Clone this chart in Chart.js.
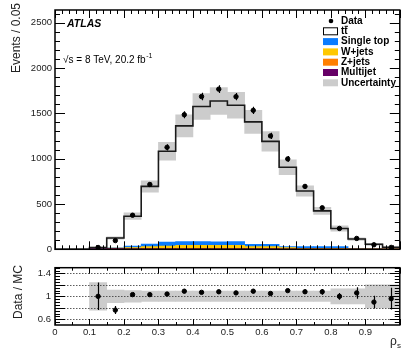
<!DOCTYPE html>
<html>
<head>
<meta charset="utf-8">
<script src="https://cdn.jsdelivr.net/npm/chart.js@4.4.1/dist/chart.umd.min.js"></script>
<style>
html, body { margin: 0; padding: 0; background: #fff; }
#wrap { position: relative; width: 403px; height: 350px; }
#top { position: absolute; left: 0; top: 0; width: 403px; height: 258px; }
#bot { position: absolute; left: 0; top: 258px; width: 403px; height: 92px; }
</style>
</head>
<body>
<div id="wrap">
  <div id="top"><canvas id="main"></canvas></div>
  <div id="bot"><canvas id="ratio"></canvas></div>
</div>
<script>
// bins of rho_s, width 0.05
var binLow = [0.00, 0.05, 0.10, 0.15, 0.20, 0.25, 0.30, 0.35, 0.40, 0.45, 0.50, 0.55, 0.60, 0.65, 0.70, 0.75, 0.80, 0.85, 0.90, 0.95];
var binWidth = 0.05;

// events per bin
var dataVals  = [0, 0, 20, 96, 376, 715, 1125, 1485, 1685, 1767, 1684, 1533, 1251, 997, 694, 458, 230, 120, 50, 21];
var dataErr   = [0, 0, 5, 10, 19, 27, 34, 39, 41, 42, 41, 39, 35, 32, 26, 21, 15, 11, 7, 5];
var mcTotal   = [0, 0, 20, 125, 365, 694, 1082, 1362, 1575, 1636, 1589, 1406, 1191, 906, 643, 424, 230, 113, 55, 22];
var singleTop = [0, 0, 1, 2, 15, 28, 44, 40, 40, 38, 40, 25, 25, 10, 18, 18, 18, 5, 4, 1];
var wJets     = [0, 0, 2, 3, 12, 20, 25, 32, 32, 32, 32, 20, 20, 13, 6, 6, 6, 2, 1, 1];
var zJets     = [0, 0, 1, 2, 4, 6, 7, 8, 8, 8, 8, 6, 6, 4, 3, 3, 3, 1, 1, 1];
var multijet  = [0, 0, 12, 8, 4, 4, 4, 4, 4, 4, 4, 4, 4, 3, 3, 3, 3, 2, 2, 2];
// relative MC uncertainty
var uncRel    = [0, 0, 0.24, 0.11, 0.10, 0.09, 0.09, 0.09, 0.09, 0.09, 0.09, 0.09, 0.09, 0.09, 0.09, 0.09, 0.13, 0.13, 0.20, 0.20];

// data / MC
var ratioVals = [null, null, 1.00, 0.76, 1.03, 1.03, 1.04, 1.09, 1.07, 1.08, 1.06, 1.09, 1.05, 1.10, 1.08, 1.08, 1.00, 1.06, 0.90, 0.96];
var ratioErr  = [0, 0, 0.24, 0.07, 0.04, 0.03, 0.03, 0.03, 0.03, 0.03, 0.03, 0.03, 0.03, 0.03, 0.04, 0.05, 0.06, 0.10, 0.11, 0.19];

// ticks
var mainYTicks  = [0, 500, 1000, 1500, 2000, 2500];
var ratioYTicks = [0.6, 0.8, 1, 1.2, 1.4];
var xTickVals   = [0, 0.1, 0.2, 0.3, 0.4, 0.5, 0.6, 0.7, 0.8, 0.9];

var legendLabels = ['Data', 'tt', 'Single top', 'W+jets', 'Z+jets', 'Multijet', 'Uncertainty'];

var FONT = '"Liberation Sans", Arial, Helvetica, sans-serif';
var colSingleTop = '#0a7cff';
var colW = '#ffc800';
var colZ = '#ff7f00';
var colMJ = '#660066';
var colUnc = '#cccccc';

Chart.defaults.font.family = FONT;

function centers() {
    return binLow.map(function(b) { return b + binWidth / 2; });
}

function barSet(arr, color, axis) {
    var c = centers();
    return {
        type: 'bar',
        yAxisID: axis,
        data: arr.map(function(v, i) { return { x: c[i], y: v }; }),
        backgroundColor: color,
        borderWidth: 0,
        grouped: false,
        barPercentage: 1,
        categoryPercentage: 1
    };
}

function frameTicks(chart, o) {
    var ctx = chart.ctx, a = chart.chartArea;
    var xs = chart.scales.x, ys = chart.scales.y;
    ctx.save();
    ctx.strokeStyle = '#000';
    ctx.lineWidth = 1;
    ctx.beginPath();
    for (var i = 0; i <= o.xN; i++) {
        var px = Math.round(xs.getPixelForValue(i * o.xStep)) + 0.5;
        var len = (i % o.xEvery === 0) ? o.xLen[0] : o.xLen[1];
        ctx.moveTo(px, a.bottom); ctx.lineTo(px, a.bottom - len);
        ctx.moveTo(px, a.top); ctx.lineTo(px, a.top + len);
    }
    for (var j = 0; j <= o.yN; j++) {
        var py = Math.round(ys.getPixelForValue(o.yStart + j * o.yStep)) + 0.5;
        if (py < a.top || py > a.bottom) continue;
        var l = o.yMajor(j) ? o.yLen[0] : o.yLen[1];
        ctx.moveTo(a.left, py); ctx.lineTo(a.left + l, py);
        ctx.moveTo(a.right, py); ctx.lineTo(a.right - l, py);
    }
    ctx.stroke();
    ctx.lineWidth = 1.5;
    ctx.strokeRect(a.left, a.top, a.right - a.left, a.bottom - a.top);
    ctx.restore();
}

function errorBars(chart, vals, errs) {
    var ctx = chart.ctx, xs = chart.scales.x, ys = chart.scales.y, c = centers();
    ctx.save();
    ctx.strokeStyle = '#000';
    ctx.lineWidth = 1.2;
    ctx.beginPath();
    for (var i = 0; i < vals.length; i++) {
        if (vals[i] === null || !vals[i]) continue;
        var px = Math.round(xs.getPixelForValue(c[i])) + 0.5;
        ctx.moveTo(px, ys.getPixelForValue(vals[i] - errs[i]));
        ctx.lineTo(px, ys.getPixelForValue(vals[i] + errs[i]));
    }
    ctx.stroke();
    ctx.restore();
}

function vText(ctx, text, x, y) {
    ctx.save();
    ctx.translate(x, y);
    ctx.rotate(-Math.PI / 2);
    ctx.textAlign = 'right';
    ctx.textBaseline = 'alphabetic';
    ctx.fillText(text, 0, 0);
    ctx.restore();
}

var mainDecor = {
    id: 'mainDecor',
    afterDatasetsDraw: function(chart) {
        errorBars(chart, dataVals, dataErr);
    },
    afterDraw: function(chart) {
        var ctx = chart.ctx;
        frameTicks(chart, {
            xN: 50, xStep: 0.02, xEvery: 5, xLen: [8, 4],
            yN: 27, yStart: 0, yStep: 100, yMajor: function(j) { return j % 5 === 0; }, yLen: [10, 5]
        });
        ctx.save();
        ctx.fillStyle = '#222';
        ctx.font = '12px ' + FONT;
        vText(ctx, 'Events / 0.05', 20, 3);

        ctx.fillStyle = '#000';
        ctx.textBaseline = 'middle';
        ctx.textAlign = 'left';
        ctx.font = 'italic bold 10.5px ' + FONT;
        ctx.fillText('ATLAS', 67, 24);
        ctx.font = '10px ' + FONT;
        var t = '\u221As = 8 TeV, 20.2 fb';
        ctx.fillText(t, 63, 60);
        var w = ctx.measureText(t).width;
        ctx.font = '7px ' + FONT;
        ctx.fillText('-1', 63 + w + 0.5, 56);

        // legend
        var lx = 323, tx = 341, y0 = 21, dy = 10.3;
        ctx.font = 'bold 10px ' + FONT;
        var boxCols = [null, '#ffffff', colSingleTop, colW, colZ, colMJ, colUnc];
        for (var i = 0; i < legendLabels.length; i++) {
            var yy = y0 + i * dy;
            if (i === 0) {
                ctx.beginPath();
                ctx.arc(331, yy, 2.3, 0, 2 * Math.PI);
                ctx.fill();
            } else {
                ctx.fillStyle = boxCols[i];
                ctx.fillRect(lx, yy - 3.5, 15, 7);
                if (i === 1) {
                    ctx.strokeStyle = '#000';
                    ctx.lineWidth = 1;
                    ctx.strokeRect(lx + 0.5, yy - 3.5, 14, 7);
                }
            }
            ctx.fillStyle = '#000';
            ctx.fillText(legendLabels[i], tx, yy);
            if (i === 1) {
                var w1 = ctx.measureText('t').width;
                ctx.fillRect(tx + w1 + 0.3, yy - 5.5, w1, 1);
            }
        }
        ctx.restore();
    }
};

var ratioDecor = {
    id: 'ratioDecor',
    afterDatasetDraw: function(chart, args) {
        if (args.index !== 1) return;
        var ctx = chart.ctx, a = chart.chartArea, ys = chart.scales.y;
        ctx.save();
        ctx.strokeStyle = '#333';
        ctx.lineWidth = 0.8;
        ctx.setLineDash([1.5, 1.5]);
        ratioYTicks.forEach(function(v) {
            var py = Math.round(ys.getPixelForValue(v)) + 0.5;
            ctx.beginPath();
            ctx.moveTo(a.left, py);
            ctx.lineTo(a.right, py);
            ctx.stroke();
        });
        ctx.restore();
    },
    afterDatasetsDraw: function(chart) {
        errorBars(chart, ratioVals, ratioErr);
    },
    afterDraw: function(chart) {
        var ctx = chart.ctx;
        frameTicks(chart, {
            xN: 20, xStep: 0.05, xEvery: 2, xLen: [6, 3],
            yN: 20, yStart: 0.5, yStep: 0.05, yMajor: function(j) { return (j + 2) % 4 === 0; }, yLen: [10, 5]
        });
        ctx.save();
        ctx.fillStyle = '#222';
        ctx.font = '12px ' + FONT;
        vText(ctx, 'Data / MC', 22, 7);
        ctx.textAlign = 'left';
        ctx.textBaseline = 'alphabetic';
        ctx.fillText('\u03C1', 390, 87);
        ctx.font = '8px ' + FONT;
        ctx.fillText('s', 397, 90);
        ctx.restore();
    }
};

var c = centers();

new Chart(document.getElementById('main'), {
    type: 'bar',
    data: {
        datasets: [
            {
                type: 'scatter',
                data: dataVals.map(function(v, i) { return v ? { x: c[i], y: v } : null; }).filter(function(p) { return p; }),
                backgroundColor: '#000',
                borderColor: '#000',
                pointRadius: 2.2,
                pointHoverRadius: 2.2
            },
            {
                type: 'line',
                data: binLow.map(function(b, i) { return { x: b, y: mcTotal[i] }; })
                    .concat([{ x: binLow[binLow.length - 1] + binWidth, y: mcTotal[mcTotal.length - 1] }]),
                stepped: 'before',
                borderColor: '#1a1a1a',
                borderWidth: 1.6,
                pointRadius: 0,
                fill: false
            },
            {
                type: 'bar',
                data: mcTotal.map(function(v, i) { return { x: c[i], y: v ? [v * (1 - uncRel[i]), v * (1 + uncRel[i])] : null }; }),
                backgroundColor: colUnc,
                borderWidth: 0,
                grouped: false,
                barPercentage: 1,
                categoryPercentage: 1
            },
            barSet(multijet, colMJ, 'yb'),
            barSet(zJets, colZ, 'yb'),
            barSet(wJets, colW, 'yb'),
            barSet(singleTop, colSingleTop, 'yb')
        ]
    },
    options: {
        animation: false,
        responsive: true,
        maintainAspectRatio: false,
        events: [],
        layout: { padding: { top: 10, right: 2, bottom: 7, left: 0 } },
        plugins: { legend: { display: false }, tooltip: { enabled: false } },
        scales: {
            x: { type: 'linear', min: 0, max: 1, offset: false, display: false },
            y: {
                type: 'linear', min: 0, max: 2640,
                afterBuildTicks: function(s) { s.ticks = mainYTicks.map(function(v) { return { value: v }; }); },
                afterFit: function(s) { s.width = 55; },
                grid: { display: false, drawTicks: false },
                border: { display: false },
                ticks: {
                    padding: 3, color: '#222', font: { size: 9.5 },
                    callback: function(v) { return String(v); }
                }
            },
            yb: { type: 'linear', min: 0, max: 2640, stacked: true, display: false }
        }
    },
    plugins: [mainDecor]
});

new Chart(document.getElementById('ratio'), {
    type: 'bar',
    data: {
        datasets: [
            {
                type: 'scatter',
                data: ratioVals.map(function(v, i) { return v === null ? null : { x: c[i], y: v }; }).filter(function(p) { return p; }),
                backgroundColor: '#000',
                borderColor: '#000',
                pointRadius: 2.2,
                pointHoverRadius: 2.2
            },
            {
                type: 'bar',
                data: uncRel.map(function(u, i) { return { x: c[i], y: mcTotal[i] ? [1 - u, 1 + u] : null }; }),
                backgroundColor: colUnc,
                borderWidth: 0,
                grouped: false,
                barPercentage: 1,
                categoryPercentage: 1
            }
        ]
    },
    options: {
        animation: false,
        responsive: true,
        maintainAspectRatio: false,
        events: [],
        layout: { padding: { top: 7, right: 2, bottom: 0, left: 0 } },
        plugins: { legend: { display: false }, tooltip: { enabled: false } },
        scales: {
            x: {
                type: 'linear', min: 0, max: 1, offset: false,
                afterBuildTicks: function(s) { s.ticks = xTickVals.map(function(v) { return { value: v }; }); },
                afterFit: function(s) { s.height = 25; },
                grid: { display: false, drawTicks: false },
                border: { display: false },
                ticks: {
                    padding: 2, color: '#222', font: { size: 9.5 }, maxRotation: 0, autoSkip: false,
                    callback: function(v) { return String(v); }
                }
            },
            y: {
                type: 'linear', min: 0.5, max: 1.5,
                afterBuildTicks: function(s) { s.ticks = ratioYTicks.map(function(v) { return { value: v }; }); },
                afterFit: function(s) { s.width = 55; },
                grid: { display: false, drawTicks: false },
                border: { display: false },
                ticks: {
                    padding: 4, color: '#222', font: { size: 9.5 },
                    callback: function(v) { return String(v); }
                }
            }
        }
    },
    plugins: [ratioDecor]
});
</script>
</body>
</html>
